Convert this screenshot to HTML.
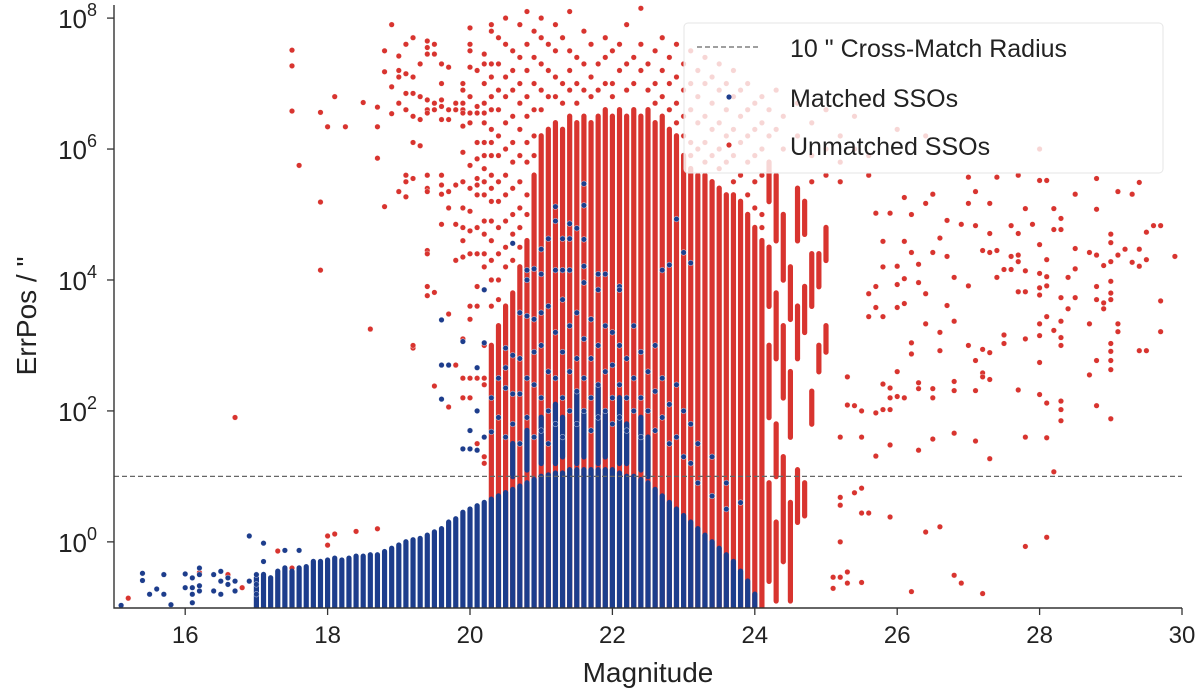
<!DOCTYPE html>
<html><head><meta charset="utf-8"><style>
html,body{margin:0;padding:0;background:#fff}
svg{display:block;font-family:"Liberation Sans",sans-serif}
</style></head><body>
<svg id="chart" width="1200" height="694" viewBox="0 0 1200 694">
<g id="marks"></g>
<g id="axes"></g>
</svg>
<script>
// ---------- data ----------
const xTicks = [16,18,20,22,24,26,28,30];
const yTicks = [0,2,4,6,8];
const crossMatchRadius = 10;
const blueColMag = [17.0,17.1,17.2,17.3,17.4,17.5,17.6,17.7,17.8,17.9,18.0,18.1,18.2,18.3,18.4,18.5,18.6,18.7,18.8,18.9,19.0,19.1,19.2,19.3,19.4,19.5,19.6,19.7,19.8,19.9,20.0,20.1,20.2,20.3,20.4,20.5,20.6,20.7,20.8,20.9,21.0,21.1,21.2,21.3,21.4,21.5,21.6,21.7,21.8,21.9,22.0,22.1,22.2,22.3,22.4,22.5,22.6,22.7,22.8,22.9,23.0,23.1,23.2,23.3,23.4,23.5,23.6,23.7,23.8,23.9,24.0];
const blueColTop = [-0.55,-0.5,-0.55,-0.45,-0.4,-0.45,-0.4,-0.38,-0.3,-0.3,-0.28,-0.25,-0.28,-0.25,-0.22,-0.22,-0.2,-0.2,-0.15,-0.1,-0.05,0.0,0.03,0.05,0.1,0.15,0.2,0.3,0.35,0.45,0.5,0.55,0.6,0.65,0.7,0.75,0.8,0.85,0.9,0.95,1.0,1.02,1.05,1.05,1.1,1.1,1.1,1.1,1.1,1.1,1.1,1.05,1.0,1.0,0.95,0.9,0.8,0.7,0.6,0.5,0.4,0.3,0.2,0.1,0.0,-0.1,-0.2,-0.3,-0.45,-0.6,-0.8];
// matched upper segments (dense mixed zone)
const blueSegMag = [20.6,20.8,21.0,21.2,21.3,21.5,21.6,21.8,21.9,22.1,22.2,22.4,22.5];
const blueSegLo =  [1.0,1.1,1.2,1.2,1.3,1.2,1.3,1.2,1.3,1.2,1.2,1.1,1.0];
const blueSegHi =  [1.5,1.7,1.9,2.1,1.9,2.3,2.0,2.4,2.0,2.2,1.8,1.9,1.6];
const redColMag = [20.3,20.4,20.5,20.6,20.7,20.8,20.9,21.0,21.1,21.2,21.3,21.4,21.5,21.6,21.7,21.8,21.9,22.0,22.1,22.2,22.3,22.4,22.5,22.6,22.7,22.8,22.9,23.0,23.1,23.2,23.3,23.4,23.5,23.6,23.7,23.8,23.9,24.0,24.1];
const redColTop = [3.0,3.3,3.6,3.8,4.2,4.6,5.6,6.2,6.3,6.4,6.3,6.5,6.4,6.5,6.4,6.5,6.6,6.5,6.6,6.5,6.6,6.5,6.6,6.4,6.5,6.3,6.2,5.9,5.7,5.6,5.6,5.5,5.4,5.3,5.3,5.2,5.0,4.8,4.6];
const redSegMag = [24.2,24.2,24.2,24.2,24.3,24.3,24.3,24.3,24.4,24.4,24.4,24.5,24.5,24.5,24.6,24.6,24.6,24.7,24.7,24.7,24.8,24.8,24.9,24.9,25.0,25.0];
const redSegLo =  [5.2,3.6,1.9,-0.6,4.6,2.8,1.0,-0.9,4.0,2.2,-0.3,3.4,1.6,-0.9,4.6,2.8,0.3,4.7,3.2,0.4,3.6,1.8,3.9,2.6,4.3,2.9];
const redSegHi =  [5.8,4.5,3.0,0.9,5.6,3.8,1.8,0.3,5.0,3.3,1.3,4.2,2.6,0.6,5.4,3.6,1.1,5.2,3.9,0.9,4.4,2.3,4.4,3.0,4.8,3.3];
const redBinMag = [15.2,16.2,16.6,16.7,16.8,16.9,17.3,17.5,17.6,17.7,17.9,18.0,18.1,18.25,18.4,18.5,18.6,18.7,18.8,18.9,19.0,19.1,19.2,19.3,19.4,19.5,19.6,19.7,19.8,19.9,20.0,20.1,20.2,20.3,20.4,20.5,20.6,20.7,20.8,20.9,21.0,21.1,21.2,21.3,21.4,21.5,21.6,21.7,21.8,21.9,22.0,22.1,22.2,22.3,22.4,22.5,22.6,22.7,22.8,22.9,23.0,23.1,23.2,23.3,23.4,23.5,23.6,23.7,23.8,23.9,24.0,24.1,24.2,24.3,24.4,24.6,24.8,25.0,25.2,25.4,25.6,26.0,26.4,28.0];
const redBinLogs = [
[-0.86],[-0.47],[-0.5],[1.9],[-0.7],[-0.6],[-0.14],[7.51,7.27,6.58,-0.4],[5.75],[],[6.56,5.19,4.15],[6.34,0.09,-0.05],[6.8,0.12],[6.34],[0.16],[6.71],[3.25],[6.64,6.34,5.86,0.2],[7.5,7.18,5.12],[7.9,6.95,6.54],
[7.42,7.2,7.1,6.7,5.35],[7.6,7.15,6.85,6.6,5.6,5.5,5.27],[7.7,7.1,6.85,6.5,6.1,5.55,2.96,3.0],[7.3,6.8,6.45,6.05],[7.65,7.55,7.45,6.75,6.6,6.55,5.6,5.4,5.35,4.45,4.4,3.9,3.76],[7.6,7.45,6.7,6.6,3.81,2.38],[7.3,7.0,6.75,6.65,6.45,5.6,5.45,5.31,4.85,2.7],[7.25,6.6,6.45,5.35,5.1,3.48,2.06],[6.7,6.6,5.45,4.85,4.3,2.7],[7.0,6.9,6.7,6.6,6.55,6.35,5.95,5.5,5.1,4.8,4.6,4.35,3.1,2.5,2.2],
[7.85,7.6,7.5,7.25,6.8,6.55,6.4,5.75,5.4,5.05,4.75,4.4,3.6,3.4,2.5,2.2,1.7],[7.2,6.65,6.55,6.1,5.85,5.55,5.45,5.3,4.8,4.4,3.9,3.6,2.5,1.5],[7.45,7.3,7.0,6.7,6.55,6.4,6.1,5.9,5.7,5.5,5.3,4.9,4.7,4.4,4.2,3.85,3.0,2.5,2.4,1.3,1.2],[7.9,7.8,7.3,7.1,6.8,6.6,6.3,6.1,5.9,5.6,5.4,5.2,4.9,4.6,4.3,4.0,3.6],
[7.7,7.3,6.9,6.6,6.2,5.9,5.5,5.2,4.8,4.4,4.0,3.7],[8.0,7.6,7.1,6.8,6.4,6.0,5.6,5.3,4.9,4.5,4.2],[7.5,7.2,6.9,6.5,6.1,5.8,5.4,5.0,4.7,4.3],[7.9,7.4,7.0,6.7,6.3,5.9,5.5,5.1,4.8,4.5],[8.1,7.6,7.2,6.8,6.5,6.1,5.8,5.3,5.0],[7.8,7.4,7.0,6.6,6.2,5.9],[8.0,7.7,7.3,6.9,6.6],[7.6,7.2,6.8],[7.9,7.5,7.1,6.8],[7.7,7.0,6.7],[8.1,7.5,7.2,6.9],[7.4,7.0,6.7],[7.8,7.3,6.9],[7.6,7.1,6.8],[7.3,6.9],[7.7,7.4,7.0],[7.5,7.0,6.8],[7.6,7.2],[7.9,7.3,6.9],[7.4,7.0],[8.15,7.6,7.2],[7.3,6.9],[7.5,7.0,6.7],[7.7,7.2,6.8],[7.4,7.0,6.6],[7.6,7.1,6.7,6.4],
[7.3,6.9,6.5,6.2],[7.5,7.0,6.6,6.1,5.9],[7.2,6.8,6.4,6.0],[7.4,7.0,6.5,6.1,5.8],[7.1,6.7,6.3,5.9],[7.3,6.9,6.4,6.0,5.7],[7.0,6.6,6.2,5.8],[7.2,6.8,6.3,5.9,5.5],[6.9,6.5,6.1,5.6],[7.0,6.6,6.2,5.8,5.3],[6.7,6.3,5.9,5.5,5.1],[6.8,6.4,6.0,5.6,5.0,4.8],[6.6,6.2],[6.9,6.3],[6.5,6.0],[6.7,6.2],[6.4,5.9,5.5],[6.6,6.0,5.6],[6.2,5.8,5.5],[6.5,6.0],[5.9,5.6],[6.3],[6.2],[6.0]];
const redFarMag = [25.7,25.9,26.2,26.1,26.4,26.5,26.7,26.9,27.1,27.0,27.4,27.7,28.0,28.1,28.8,29.4,29.1,29.3,28.5,27.1,27.0,27.3,27.8,28.2,28.8,27.6,27.9,28.3,28.3,28.2,29.6,29.7,29.5,27.3,27.7,29.0,29.0,26.6,25.8,26.1,28.0,27.2,27.3,27.4,28.5,28.7,28.8,29.2,29.4,29.1,29.0,28.9,29.3,29.4,29.5,29.9,26.5,26.7,26.2,26.3,27.7,27.6,27.7,27.5,27.6,27.8,28.0,28.1,28.1,28.1,27.4,28.4,28.5,26.8,27.0,26.0,26.1,26.0,25.8,26.3,25.7,25.6,26.4,27.7,27.8,28.0,28.0,28.3,28.5,28.4,28.8,29.0,29.0,29.0,28.8,28.9,28.9,29.7,26.7,25.7,26.0,26.1,25.8,25.6,28.1,28.3,28.2,28.3,28.3,28.0,28.0,27.8,27.5,27.5,28.7,29.1,29.1,29.7,26.4,26.8,26.6,26.6,26.2,26.2,27.0,27.2,27.3,27.1,28.0,29.0,29.0,29.0,29.0,29.4,29.5,28.8,28.7,27.2,27.2,27.3,26.0,25.3,25.8,25.9,25.9,26.0,26.1,26.3,26.3,26.5,26.5,26.8,26.8,27.1,27.7,28.0,28.1,28.3,28.3,28.3,28.8,29.0,25.3,25.4,25.5,25.7,25.8,25.9,25.2,25.5,25.7,25.9,26.3,26.5,26.8,27.1,27.3,27.8,28.1,28.2,25.4,25.5,25.2,25.2,25.5,25.6,25.9,26.4,26.6,27.8,28.1,25.2,26.8,26.9,26.2,27.2,25.3,25.3,25.2,25.1,25.1,25.5];
const redFarLog = [5.02,5.02,5.0,5.26,5.17,5.31,4.91,4.85,4.83,5.57,5.57,5.6,5.52,5.52,5.55,5.49,5.35,5.31,5.31,5.35,5.17,5.17,5.09,5.09,5.08,4.83,4.85,4.94,4.77,4.77,4.83,4.83,4.73,4.71,4.71,4.7,4.57,4.64,4.59,4.59,4.54,4.45,4.42,4.45,4.48,4.42,4.38,4.47,4.47,4.38,4.28,4.22,4.27,4.21,4.31,4.36,4.42,4.36,4.42,4.24,4.38,4.36,4.28,4.16,4.16,4.14,4.1,4.31,4.05,3.91,4.04,4.04,4.17,4.04,3.91,4.21,4.02,3.93,4.2,3.96,3.9,3.79,3.79,3.82,3.82,3.88,3.77,3.73,3.73,3.56,3.9,3.98,3.8,3.7,3.7,3.65,3.56,3.68,3.61,3.58,3.58,3.64,3.44,3.44,3.44,3.37,3.23,3.12,3.0,3.33,3.15,3.1,3.16,3.03,3.33,3.33,3.21,3.21,3.33,3.37,3.2,2.92,3.04,2.87,3.0,2.94,2.89,2.77,2.74,3.03,2.91,2.77,2.63,2.92,2.92,2.77,2.55,2.58,2.52,2.48,2.6,2.52,2.41,2.35,2.2,2.22,2.2,2.43,2.34,2.34,2.2,2.45,2.31,2.31,2.32,2.25,2.12,2.15,2.02,1.85,2.08,1.88,2.09,2.08,2.0,1.97,2.02,2.02,1.6,1.6,1.31,1.48,1.4,1.57,1.66,1.54,1.27,1.6,1.59,1.07,0.75,0.82,0.68,0.56,0.44,0.44,0.38,0.15,0.23,-0.07,0.07,0.0,-0.51,-0.63,-0.76,-0.79,-0.46,-0.63,-0.54,-0.54,-0.71,-0.62];
const blueBinMag = [15.1,15.4,15.5,15.6,15.7,15.8,16.0,16.1,16.2,16.4,16.5,16.6,16.7,16.9,17.0,17.1,17.4,17.6,19.6,19.7,19.9,20.0,20.1,20.2,20.3,20.4,20.5,20.6,20.7,20.8,20.9,21.0,21.1,21.2,21.3,21.4,21.5,21.6,21.7,21.8,21.9,22.0,22.1,22.2,22.3,22.4,22.5,22.6,22.7,22.8,22.9,23.0,23.1,23.2,23.4,23.6,23.8];
const blueBinLogs = [[-0.97],[-0.48,-0.59],[-0.8],[-0.72],[-0.8,-0.5],[-0.96],[-0.49,-0.7],[-0.55,-0.7,-0.8,-0.93],[-0.4,-0.5,-0.67,-0.75],[-0.5,-0.75],[-0.45,-0.6,-0.8],[-0.55,-0.65],[-0.6,-0.75],[0.09,-0.6],[-0.5,-0.65,-0.8],[-0.02,-0.3],[-0.13],[-0.13],
[3.39,2.7,2.18],[2.7],[3.06,1.42],[1.7,1.42],[2.66,1.4,2.0],[3.85,3.04,1.6],[1.68,2.2],[2.5,1.9],[2.96,2.66,2.35,1.6],[4.56,2.85,2.26,1.8],[3.5,2.8,2.26,1.5],[4.15,4.0,3.45,2.5,1.9],[4.17,3.4,2.9,2.4,1.6],[4.47,4.09,3.5,3.0,2.2,1.7],[4.63,3.6,2.6,2.0,1.5],[5.12,4.9,4.15,3.2,2.5,1.8],[4.63,4.15,3.7,2.9,2.2,1.6],[4.86,4.63,4.15,3.3,2.6,2.0],[4.79,3.5,2.8,2.3,1.8],[5.47,5.14,4.62,4.21,3.96,3.1,2.5,2.0],[3.4,2.8,2.2,1.7],[4.09,3.85,3.0,2.4,1.9],[4.09,3.3,2.6,2.0],[3.2,2.7,2.2,1.8],[3.9,3.85,3.0,2.4,1.9],[2.8,2.2,1.7],[3.3,2.5,2.0],[2.9,2.2,1.6],[2.6,2.0],[3.0,2.3,1.7],[4.15,2.5,1.9],[4.23,2.1,1.5],[4.93,2.4,1.6],[4.42,2.0,1.3],[4.26,1.8,1.2],[1.5,0.9],[1.3,0.7],[0.9,0.5],[0.6]];

// ---------- scales ----------
const X0=114, X1=1182, Y0=608, YTOP=5;
const xMin=15, xMax=30, yMin=-1.01, yMax=8.2;
const xs = m => X0 + (m - xMin) / (xMax - xMin) * (X1 - X0);
const ys = l => Y0 - (l - yMin) / (yMax - yMin) * (Y0 - YTOP);
const RED='#d8342f', BLUE='#1d3d8c', R=2.8;
const NS='http://www.w3.org/2000/svg';
const marks=document.getElementById('marks');
const axes=document.getElementById('axes');
function mk(tag, attrs, parent){const e=document.createElementNS(NS,tag);for(const k in attrs)e.setAttribute(k,attrs[k]);parent.appendChild(e);return e;}

const clip=mk('clipPath',{id:'clip'},mk('defs',{},marks));
mk('rect',{x:X0,y:0,width:X1-X0+4,height:Y0},clip);
const g=mk('g',{'clip-path':'url(#clip)'},marks);

function col(m,lo,hi,color,name){
  const x=xs(m), y1=ys(hi)-R, y2=ys(lo)+R;
  const r=mk('rect',{x:x-2.6,y:y1,width:5.2,height:Math.max(2*R,y2-y1),rx:2.6,fill:color},g);
  
  
}
function dot(m,l,color,name){
  const c=mk('circle',{cx:xs(m),cy:ys(l),r:R,fill:color,stroke:'#fff','stroke-width':0.4},g);
  
  
}
redColMag.forEach((m,i)=>col(m,-1.1,redColTop[i],RED,'unmatched-column'));
redSegMag.forEach((m,i)=>col(m,redSegLo[i],redSegHi[i],RED,'unmatched-column-segment'));
redBinMag.forEach((m,i)=>redBinLogs[i].forEach(l=>dot(m,l,RED,'unmatched-point')));
redFarMag.forEach((m,i)=>dot(m,redFarLog[i],RED,'unmatched-point'));
blueColMag.forEach((m,i)=>col(m,-1.1,blueColTop[i],BLUE,'matched-column'));
blueSegMag.forEach((m,i)=>col(m,blueSegLo[i],blueSegHi[i],BLUE,'matched-column-segment'));
blueBinMag.forEach((m,i)=>blueBinLogs[i].forEach(l=>dot(m,l,BLUE,'matched-point')));

const ly=ys(Math.log10(crossMatchRadius));
const dl=mk('line',{x1:X0,x2:X1,y1:ly,y2:ly,stroke:'#666','stroke-width':1.2,'stroke-dasharray':'5,3'},marks);



const ax=mk('path',{d:`M${X0},${YTOP} V${Y0} H${X1}`,fill:'none',stroke:'#333','stroke-width':1.4},axes);


xTicks.forEach(t=>{
  const x=xs(t);
  mk('line',{x1:x,x2:x,y1:Y0,y2:Y0+7,stroke:'#333','stroke-width':1.3},axes);
  const tx=mk('text',{x:x,y:643,'text-anchor':'middle','font-size':24,fill:'#222'},axes);
  tx.textContent=t;
  
  
});
yTicks.forEach(t=>{
  const y=ys(t);
  mk('line',{x1:X0-7,x2:X0,y1:y,y2:y,stroke:'#333','stroke-width':1.3},axes);
  const tx=mk('text',{x:97,y:y+10,'text-anchor':'end','font-size':26,fill:'#222'},axes);
  tx.innerHTML='10<tspan dy="-12" font-size="18">'+t+'</tspan>';
  
  
});
</script>
<script>
const svg=document.getElementById('chart');
const NS2='http://www.w3.org/2000/svg';
function add(tag,attrs,txt){const e=document.createElementNS(NS2,tag);for(const k in attrs)e.setAttribute(k,attrs[k]);if(txt)e.textContent=txt;svg.appendChild(e);return e;}
const xl=add('text',{x:648,y:682,'text-anchor':'middle','font-size':28,fill:'#222'},'Magnitude');


const yl=add('text',{x:0,y:0,'text-anchor':'middle','font-size':28,fill:'#222',transform:'translate(36,316) rotate(-90)'},'ErrPos / "');


const lg=add('rect',{x:684,y:23,width:479,height:150,rx:4,fill:'#fff','fill-opacity':0.8,stroke:'#e6e6e6'});


const l1=add('line',{x1:697,x2:760,y1:47,y2:47,stroke:'#666','stroke-width':1.2,'stroke-dasharray':'5,3'});


const t1=add('text',{x:790,y:57,'font-size':25,fill:'#222'},'10 " Cross-Match Radius');


const c2=add('circle',{cx:729,cy:97,r:2.6,fill:'#1d3d8c'});


const t2=add('text',{x:790,y:107,'font-size':25,fill:'#222'},'Matched SSOs');


const c3=add('circle',{cx:729,cy:145,r:2.6,fill:'#d8342f'});


const t3=add('text',{x:790,y:155,'font-size':25,fill:'#222'},'Unmatched SSOs');


</script>
</body></html>
